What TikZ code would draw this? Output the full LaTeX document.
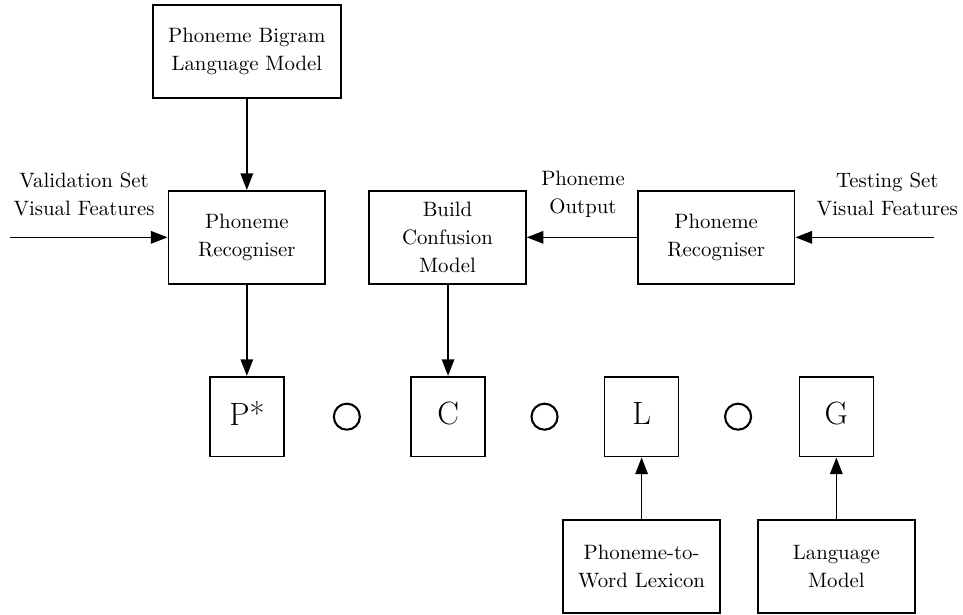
\documentclass[tikz,border=0pt]{standalone}
\usetikzlibrary{arrows.meta}

\tikzset{
  box/.style={draw, line width=0.8pt, inner sep=0pt, align=center,
    minimum width=2.65cm, minimum height=1.57cm,
    font=\fontsize{10}{13.4}\selectfont},
  fst/.style={draw, line width=0.8pt, inner sep=0pt,
    minimum width=1.25cm, minimum height=1.35cm, text depth=0.3em,
    font=\fontsize{15.5}{18}\selectfont},
  comp/.style={circle, draw, line width=1pt, inner sep=0pt, minimum size=0.44cm},
  lbl/.style={align=center, font=\fontsize{10}{13.4}\selectfont},
  flow/.style={line width=0.8pt, -{Triangle[length=8pt,width=6pt]}}
}

\begin{document}
\begin{tikzpicture}
    \useasboundingbox (0,0) rectangle (16.27,10.39);

    \node[box, minimum width=3.18cm] (Bigram) at (4.17,9.52) {Phoneme Bigram\\Language Model};
    \node[box] (RecL) at (4.17,6.38) {Phoneme\\Recogniser};
    \node[box] (Build) at (7.56,6.38) {Build\\Confusion\\Model};
    \node[box] (RecR) at (12.10,6.38) {Phoneme\\Recogniser};

    \node[fst] (P) at (4.17,3.35) {P*};
    \node[fst] (C) at (7.57,3.35) {C};
    \node[fst] (L) at (10.84,3.35) {L};
    \node[fst] (G) at (14.13,3.35) {G};

    \node[comp] (PC) at (5.86,3.35) {};
    \node[comp] (CL) at (9.20,3.35) {};
    \node[comp] (LG) at (12.47,3.35) {};

    \node[box] (Lexicon) at (10.84,0.82) {Phoneme-to-\\Word Lexicon};
    \node[box] (LM) at (14.13,0.82) {Language\\Model};

    \node[lbl] (ValText) at (1.42,7.11) {Validation Set\\Visual Features};
    \node[lbl] (TestText) at (14.99,7.11) {Testing Set\\Visual Features};
    \node[lbl] (OutText) at (9.85,7.11) {Phoneme\\Output};

    \coordinate (ValIn) at (0.17,6.38);
    \coordinate (TestIn) at (15.78,6.38);

    \draw[flow] (Bigram) -- (RecL);
    \draw[flow] (ValIn) -- (RecL);
    \draw[flow] (TestIn) -- (RecR);
    \draw[flow] (RecR) -- (Build);
    \draw[flow] (RecL) -- (P);
    \draw[flow] (Build.south -| C) -- (C);
    \draw[flow] (Lexicon) -- (L);
    \draw[flow] (LM) -- (G);
\end{tikzpicture}
\end{document}
